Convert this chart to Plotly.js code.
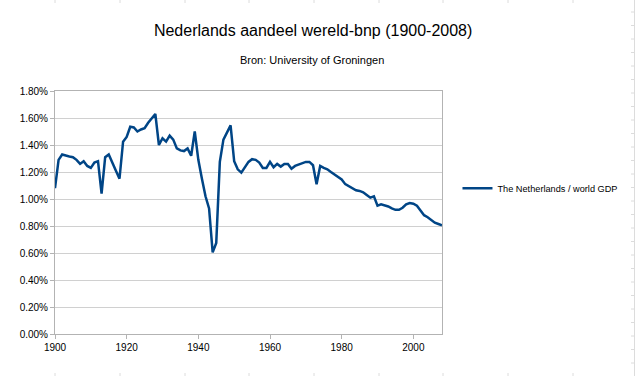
<!DOCTYPE html>
<html>
<head>
<meta charset="utf-8">
<script src="https://cdn.plot.ly/plotly-3.0.1.min.js"></script>
<style>html,body{margin:0;padding:0;background:#fff;}#chart{width:639px;height:376px;}</style>
</head>
<body>
<div id="chart"></div>
<script>
const years = [];
for (let y = 1900; y <= 2008; y++) years.push(y);

const shareNL = [
  1.08, 1.29, 1.33, 1.32, 1.315, 1.31, 1.29, 1.26, 1.28, 1.245,
  1.23, 1.27, 1.28, 1.04, 1.31, 1.33, 1.265, 1.21, 1.15, 1.425,
  1.46, 1.535, 1.53, 1.50, 1.515, 1.525, 1.565, 1.60, 1.63, 1.40,
  1.45, 1.425, 1.47, 1.44, 1.375, 1.36, 1.355, 1.375, 1.32, 1.50,
  1.29, 1.15, 1.02, 0.93, 0.605, 0.675, 1.275, 1.44, 1.49, 1.545,
  1.28, 1.22, 1.195, 1.235, 1.275, 1.295, 1.29, 1.27, 1.23, 1.23,
  1.275, 1.235, 1.26, 1.24, 1.26, 1.26, 1.225, 1.245, 1.255, 1.265,
  1.275, 1.275, 1.25, 1.11, 1.245, 1.23, 1.22, 1.20, 1.18, 1.16,
  1.145, 1.11, 1.095, 1.08, 1.065, 1.06, 1.05, 1.03, 1.01, 1.02,
  0.95, 0.96, 0.955, 0.945, 0.93, 0.92, 0.92, 0.935, 0.96, 0.97,
  0.965, 0.95, 0.915, 0.88, 0.865, 0.845, 0.825, 0.815, 0.805
];

const xTicks = [1900, 1920, 1940, 1960, 1980, 2000];
const yTicks = [0, 0.2, 0.4, 0.6, 0.8, 1.0, 1.2, 1.4, 1.6, 1.8];
const yTickLabels = yTicks.map(v => v.toFixed(2) + '%');

const titleText = 'Nederlands aandeel wereld-bnp (1900-2008)';
const subtitleText = 'Bron: University of Groningen';
const seriesName = 'The Netherlands / world GDP';

// faint spreadsheet cell borders behind the chart (page decoration)
const W = 639, H = 376, L = 55, R = 197, T = 91, B = 42;
const PW = W - L - R, PH = H - T - B;
const px2x = p => (p - L) / PW;
const px2y = p => (H - B - p) / PH;
const cellCols = [55, 120, 185, 249, 314, 379, 443, 508, 573];
const shapes = [];
const faint = {color: '#dcdcdc', width: 1};
cellCols.forEach(c => {
  shapes.push({type: 'line', xref: 'paper', yref: 'paper', x0: px2x(c), x1: px2x(c), y0: px2y(0), y1: px2y(3), line: faint, layer: 'below'});
  shapes.push({type: 'line', xref: 'paper', yref: 'paper', x0: px2x(c), x1: px2x(c), y0: px2y(373), y1: px2y(376), line: faint, layer: 'below'});
});
shapes.push({type: 'line', xref: 'paper', yref: 'paper', x0: px2x(634.5), x1: px2x(634.5), y0: px2y(0), y1: px2y(376), line: faint, layer: 'below'});
for (let r = 12; r < 376; r += 13.5) {
  shapes.push({type: 'line', xref: 'paper', yref: 'paper', x0: px2x(631), x1: px2x(634.5), y0: px2y(r), y1: px2y(r), line: faint, layer: 'below'});
}

const trace = {
  x: years, y: shareNL, type: 'scatter', mode: 'lines', name: seriesName,
  line: {color: '#004586', width: 2.5}
};

const layout = {
  width: W, height: H,
  margin: {l: L, r: R, t: T, b: B, autoexpand: false},
  paper_bgcolor: '#ffffff', plot_bgcolor: '#ffffff',
  font: {family: 'Liberation Sans, Arial, sans-serif', size: 10, color: '#000'},
  title: {text: titleText, x: 0.49, xanchor: 'center', y: 0.92, yanchor: 'middle',
          font: {size: 16, color: '#000'}},
  annotations: [{text: subtitleText, xref: 'paper', yref: 'paper', x: px2x(312), y: px2y(60), yanchor: 'middle',
                 xanchor: 'center', showarrow: false, font: {size: 11, color: '#000'}}],
  shapes: shapes,
  xaxis: {range: [1900, 2008], tickvals: xTicks, ticktext: xTicks.map(String),
          showgrid: false, showline: true, linecolor: '#b3b3b3', linewidth: 1, mirror: true,
          ticks: 'outside', ticklen: 4, tickcolor: '#b3b3b3', zeroline: false,
          tickfont: {size: 10}},
  yaxis: {range: [0, 1.8], tickvals: yTicks, ticktext: yTickLabels,
          showgrid: true, gridcolor: '#d0d0d0', gridwidth: 1,
          showline: true, linecolor: '#b3b3b3', linewidth: 1, mirror: true,
          ticks: 'outside', ticklen: 4, tickcolor: '#b3b3b3', zeroline: false,
          tickfont: {size: 10}},
  showlegend: true,
  legend: {x: 1.04, xanchor: 'left', y: 0.6, yanchor: 'middle', font: {size: 9.2},
           bgcolor: 'rgba(0,0,0,0)'}
};

Plotly.newPlot('chart', [trace], layout, {displayModeBar: false, staticPlot: true});
</script>
</body>
</html>
